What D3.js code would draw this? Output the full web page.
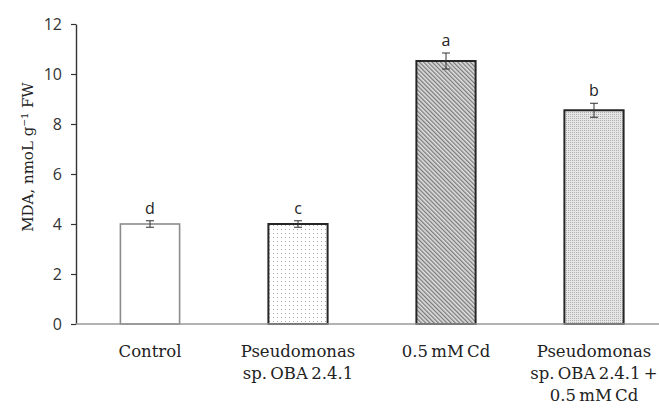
<!DOCTYPE html>
<html>
<head>
<meta charset="utf-8">
<script src="https://cdn.jsdelivr.net/npm/d3@7"></script>
<style>
  body { margin: 0; background: #fff; }
  svg { display: block; }
</style>
</head>
<body>
<svg id="chart" width="659" height="412"></svg>
<script>
// Data
const treatments = ["Control", "Pseudomonas sp. OBA 2.4.1", "0.5 mM Cd", "Pseudomonas sp. OBA 2.4.1 + 0.5 mM Cd"];
const labelLines = [["Control"], ["Pseudomonas", "sp. OBA 2.4.1"], ["0.5 mM Cd"], ["Pseudomonas", "sp. OBA 2.4.1 +", "0.5 mM Cd"]];
const mdaValues = [4.0, 4.0, 10.52, 8.55];
const mdaErrors = [0.13, 0.13, 0.32, 0.28];
const letters = ["d", "c", "a", "b"];
const yTicks = [0, 2, 4, 6, 8, 10, 12];

const margin = {top: 24, right: -9, bottom: 88, left: 76};
const width = 659, height = 412;

const svg = d3.select("#chart");

// Fill patterns
const defs = svg.append("defs");

const dots = defs.append("pattern")
    .attr("id", "dots")
    .attr("width", 4).attr("height", 4)
    .attr("patternUnits", "userSpaceOnUse");
dots.append("rect").attr("width", 4).attr("height", 4).attr("fill", "#fff");
dots.append("rect").attr("x", 1).attr("y", 1).attr("width", 1).attr("height", 1).attr("fill", "#aaa");

const hatch = defs.append("pattern")
    .attr("id", "hatch")
    .attr("width", 3).attr("height", 3)
    .attr("patternUnits", "userSpaceOnUse")
    .attr("patternTransform", "rotate(-45)");
hatch.append("rect").attr("width", 3).attr("height", 3).attr("fill", "#e0e0e0");
hatch.append("rect").attr("width", 1.3).attr("height", 3).attr("fill", "#7a7a7a");

const fine = defs.append("pattern")
    .attr("id", "fine")
    .attr("width", 2).attr("height", 2)
    .attr("patternUnits", "userSpaceOnUse");
fine.append("rect").attr("width", 2).attr("height", 2).attr("fill", "#e6e6e6");
fine.append("rect").attr("width", 1).attr("height", 1).attr("fill", "#b0b0b0");

const fills = ["#fff", "url(#dots)", "url(#hatch)", "url(#fine)"];
const strokes = ["#8c8c8c", "#262626", "#262626", "#262626"];
const strokeW = [1.6, 2, 2, 2];

// Scales
const x = d3.scaleBand(treatments, [margin.left, width - margin.right])
    .paddingInner(0.6).paddingOuter(0.3);
const y = d3.scaleLinear([0, 12], [height - margin.bottom, margin.top]);

// Y axis
svg.append("g")
    .attr("transform", `translate(${margin.left},0)`)
    .call(d3.axisLeft(y).tickValues(yTicks).tickSize(5).tickSizeOuter(0))
    .call(g => g.select(".domain").attr("stroke", "#333").attr("stroke-width", 1.4))
    .call(g => g.selectAll(".tick line").attr("stroke", "#333").attr("stroke-width", 1.2))
    .call(g => g.selectAll(".tick text")
        .attr("x", -14)
        .attr("fill", "#333")
        .attr("font-family", "Open Sans, sans-serif")
        .attr("font-size", 16));

// Y axis title
svg.append("text")
    .attr("transform", `translate(33,157) rotate(-90)`)
    .attr("text-anchor", "middle")
    .attr("font-family", "DejaVu Serif, serif")
    .attr("font-size", 15)
    .attr("fill", "#222")
    .text("MDA, nmoL g\u207B\u00B9 FW");

// Bars
svg.append("g")
    .selectAll("rect")
    .data(treatments)
    .join("rect")
    .attr("x", d => x(d))
    .attr("y", (d, i) => y(mdaValues[i]))
    .attr("width", x.bandwidth())
    .attr("height", (d, i) => y(0) - y(mdaValues[i]))
    .attr("fill", (d, i) => fills[i])
    .attr("stroke", (d, i) => strokes[i])
    .attr("stroke-width", (d, i) => strokeW[i]);

// X axis line
svg.append("line")
    .attr("x1", margin.left).attr("x2", width)
    .attr("y1", y(0)).attr("y2", y(0))
    .attr("stroke", "#999").attr("stroke-width", 1.5);

// Error bars
const err = svg.append("g").attr("stroke", "#333").attr("stroke-width", 1);
treatments.forEach((t, i) => {
    const cx = x(t) + x.bandwidth() / 2;
    const lo = y(mdaValues[i] - mdaErrors[i]);
    const hi = y(mdaValues[i] + mdaErrors[i]);
    err.append("line").attr("x1", cx).attr("x2", cx).attr("y1", lo).attr("y2", hi);
    err.append("line").attr("x1", cx - 4).attr("x2", cx + 4).attr("y1", lo).attr("y2", lo);
    err.append("line").attr("x1", cx - 4).attr("x2", cx + 4).attr("y1", hi).attr("y2", hi);
});

// Significance letters
svg.append("g")
    .selectAll("text")
    .data(treatments)
    .join("text")
    .attr("x", d => x(d) + x.bandwidth() / 2)
    .attr("y", (d, i) => y(mdaValues[i] + mdaErrors[i]) - 7)
    .attr("text-anchor", "middle")
    .attr("font-family", "Open Sans, sans-serif")
    .attr("font-size", 16)
    .attr("fill", "#222")
    .text((d, i) => letters[i]);

// Category labels
const lab = svg.append("g")
    .attr("font-family", "DejaVu Serif, serif")
    .attr("font-size", 16.5)
    .attr("word-spacing", -2)
    .attr("fill", "#222")
    .attr("text-anchor", "middle");
treatments.forEach((t, i) => {
    lab.append("text")
        .attr("x", x(t) + x.bandwidth() / 2)
        .attr("y", y(0) + 33)
        .selectAll("tspan")
        .data(labelLines[i])
        .join("tspan")
        .attr("x", x(t) + x.bandwidth() / 2)
        .attr("dy", (d, j) => j === 0 ? 0 : 22)
        .text(d => d);
});
</script>
</body>
</html>
